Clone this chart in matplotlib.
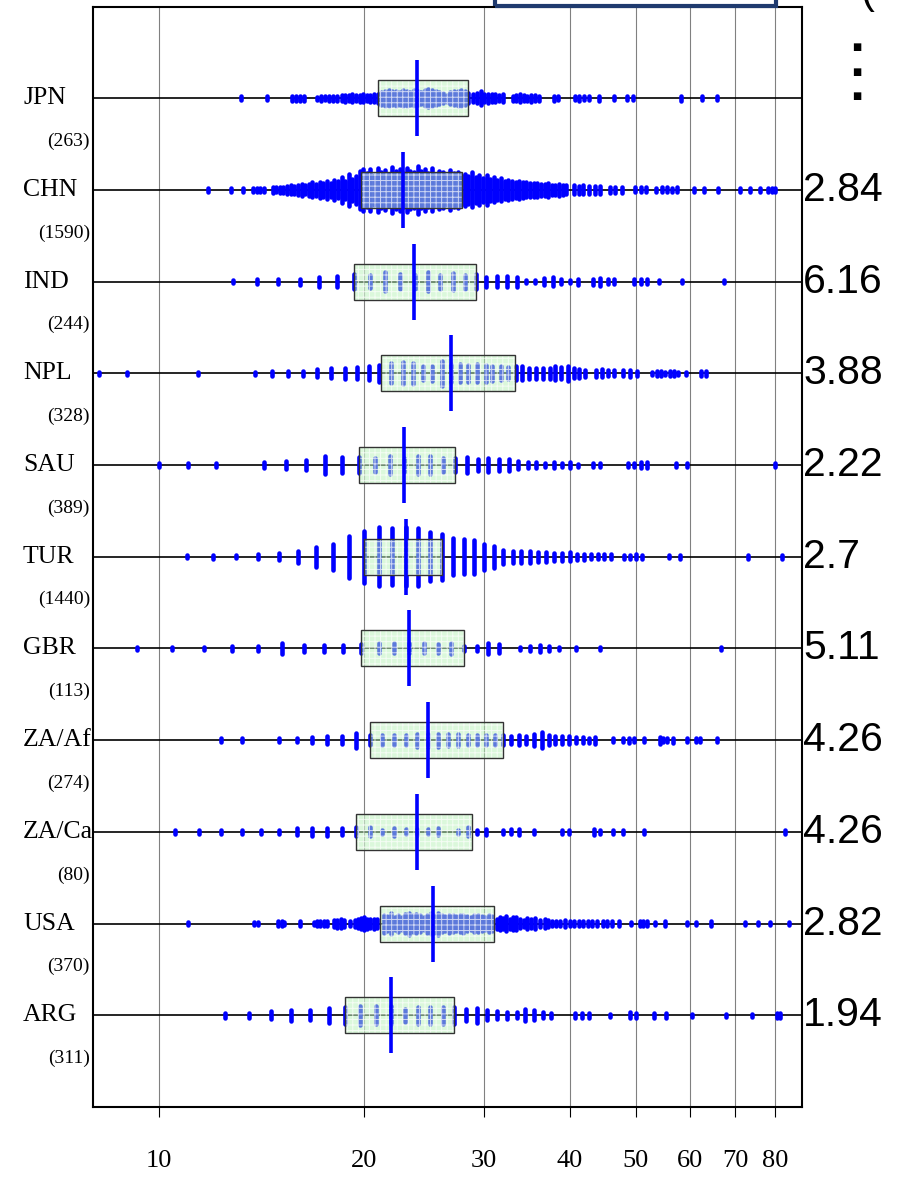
import matplotlib
matplotlib.use("Agg")
import matplotlib.pyplot as plt
from matplotlib.patches import Rectangle
import numpy as np

plt.rcParams["hatch.linewidth"] = 0.7

countries = ["JPN", "CHN", "IND", "NPL", "SAU", "TUR", "GBR", "ZA/Af", "ZA/Ca", "USA", "ARG"]
sample_sizes = [263, 1590, 244, 328, 389, 1440, 113, 274, 80, 370, 311]
ratios = ["", "2.84", "6.16", "3.88", "2.22", "2.7", "5.11", "4.26", "4.26", "2.82", "1.94"]

q1 = [20.94, 19.82, 19.34, 21.17, 19.63, 20.0, 19.82, 20.37, 19.45, 21.07, 18.76]
medians = [23.88, 22.78, 23.7, 26.83, 22.85, 23.03, 23.3, 24.77, 23.88, 25.27, 21.93]
q3 = [28.43, 27.87, 29.18, 33.3, 27.16, 25.98, 28.0, 31.94, 28.83, 30.97, 27.13]

# observed values and how many cases fall on each
jpn_vals = [13.19, 14.41, 15.66, 15.87, 16.09, 16.32, 17.06, 17.29, 17.53, 17.78, 18.02, 18.27,
            18.53, 18.75, 18.99, 19.22, 19.46, 19.70, 19.94, 20.18, 20.43, 20.69, 20.94,
            21.2, 21.46, 21.72, 21.99, 22.26, 22.54, 22.81, 23.09, 23.38, 23.67, 23.96, 24.25,
            24.55, 24.85, 25.16, 25.47, 25.78, 26.1, 26.42, 26.75, 27.08, 27.41, 27.75, 28.09, 28.44,
            28.92, 29.28, 29.64, 30.0, 30.37, 30.75, 31.12, 31.56, 31.99,
            33.04, 33.44, 33.86, 34.27, 34.7, 35.12, 35.56, 36.1,
            37.91, 38.44, 40.74, 41.37, 42.01, 42.66, 44.12, 46.47, 48.58, 49.56, 58.28, 62.54, 65.77]
jpn_cnt = [2, 2, 4, 5, 5, 4, 1, 4, 2, 4, 5, 5,
           7, 8, 7, 10, 7, 8, 10, 7, 8, 10, 12,
           20, 23, 26, 21, 23, 20, 24, 23, 20, 26, 21, 18,
           24, 29, 26, 21, 18, 14, 8, 17, 21, 23, 24, 21, 15,
           10, 14, 21, 11, 12, 10, 10, 7, 11,
           4, 7, 10, 7, 4, 8, 7, 4,
           5, 2, 2, 4, 2, 2, 4, 2, 2, 2, 5, 2, 2]

chn_vals = [11.8, 12.75, 13.29, 13.75, 13.92, 14.09, 14.26, 14.68, 14.86, 15.05, 15.23, 15.42,
            15.61, 15.8, 16.0, 16.19, 16.39, 16.59, 16.8, 17.01, 17.21, 17.43, 17.64, 17.86,
            18.08, 18.3, 18.53, 18.75, 18.99, 19.22, 19.46, 19.7, 19.94, 20.18, 20.43, 20.69,
            20.94, 21.2, 21.46, 21.72, 21.99, 22.26, 22.54, 22.81, 23.09, 23.38, 23.67, 23.96,
            24.25, 24.55, 24.85, 25.16, 25.47, 25.78, 26.1, 26.42, 26.75, 27.08, 27.41, 27.75,
            28.09, 28.44, 28.79, 29.14, 29.5, 29.86, 30.23, 30.6, 30.98, 31.36, 31.75, 32.14,
            32.54, 32.94, 33.34, 33.75, 34.17, 34.59, 35.02, 35.45, 35.88, 36.33, 36.77, 37.23,
            37.68, 38.15, 38.62, 39.09, 39.58, 40.62, 41.25, 41.88, 42.66, 43.65, 44.39, 45.91,
            46.62, 47.7, 49.94, 50.86, 51.73, 53.5, 54.74, 55.59, 56.44, 57.58, 60.93, 63.02,
            65.98, 71.0, 73.44, 75.95, 78.19, 79.16, 80.01]
chn_cnt = [2, 2, 2, 4, 4, 2, 4, 7, 5, 8, 7, 10,
           12, 11, 14, 17, 12, 18, 23, 17, 26, 21, 30, 20,
           33, 27, 44, 30, 55, 36, 47, 66, 73, 57, 72, 51,
           76, 61, 70, 55, 81, 66, 73, 58, 78, 67, 61, 84,
           64, 72, 58, 75, 55, 66, 61, 52, 69, 57, 63, 52,
           55, 47, 60, 44, 50, 39, 52, 36, 42, 32, 38, 29,
           33, 30, 26, 29, 24, 23, 21, 20, 21, 18, 17, 20,
           15, 14, 17, 14, 12, 12, 11, 12, 11, 10, 11, 7,
           8, 8, 5, 5, 5, 4, 5, 5, 4, 5, 4, 4,
           4, 4, 4, 4, 4, 4, 4]

ind_vals = [12.83, 13.92, 14.97, 16.09, 17.16, 18.22, 19.34, 20.43, 21.49, 22.61, 23.71, 24.77,
            25.86, 26.95, 28.09, 29.19, 30.18, 31.3, 32.38, 33.49, 34.58, 35.6, 36.71, 37.85,
            38.9, 40.06, 41.11, 43.24, 44.31, 45.48, 46.54, 49.7, 50.86, 51.96, 54.07, 58.53, 67.3]
ind_cnt = [2, 4, 4, 7, 14, 17, 23, 20, 30, 23, 21, 30,
           21, 26, 21, 23, 14, 17, 17, 14, 1, 1, 8, 12,
           4, 1, 7, 7, 10, 4, 5, 4, 5, 4, 2, 2, 2]

npl_vals = [8.18, 8.99, 11.42, 13.83, 14.66, 15.46, 16.27, 17.06, 17.86, 18.73,
            19.51, 20.3, 21.06, 21.89, 22.78, 23.56, 24.36, 25.16, 25.98, 26.83,
            27.66, 28.43, 29.27, 30.13, 30.83, 31.7, 32.48, 33.44, 34.11, 34.9,
            35.71, 36.54, 37.39, 38.14, 38.9, 39.75, 40.55, 41.36, 42.19, 43.77,
            44.65, 45.62, 46.54, 47.98, 49.09, 50.23, 52.84, 53.66, 54.4, 55.24,
            56.09, 56.95, 57.66, 59.26, 62.42, 63.39]
npl_cnt = [2, 2, 2, 1, 5, 4, 4, 10, 14, 15,
           18, 21, 26, 32, 36, 35, 21, 23, 41, 29,
           29, 26, 29, 26, 24, 21, 18, 21, 21, 17,
           17, 17, 17, 21, 18, 23, 14, 11, 8, 8,
           10, 7, 7, 7, 8, 5, 1, 4, 4, 2,
           4, 5, 2, 2, 4, 4]

sau_vals = [10.0, 11.05, 12.13, 14.28, 15.35, 16.44, 17.51, 18.55, 19.63, 20.72, 21.79, 22.85,
            23.95, 25.0, 26.1, 27.16, 28.26, 29.36, 30.41, 31.49, 32.58, 33.65, 34.74, 35.77,
            36.82, 37.91, 38.96, 40.06, 41.18, 43.3, 44.38, 48.71, 49.77, 50.93, 51.96, 57.38,
            59.43, 79.98]
sau_cnt = [4, 2, 4, 7, 10, 14, 29, 26, 26, 23, 30, 21,
           29, 29, 21, 21, 26, 17, 21, 18, 17, 10, 7, 7,
           4, 7, 4, 7, 1, 4, 4, 4, 4, 7, 5, 2,
           2, 2]

tur_vals = [11, 12, 13, 14, 15, 16, 17, 18, 19, 20, 21, 22, 23, 24, 25, 26, 27, 28, 29, 30,
            31, 32, 33, 34, 35, 36, 37, 38, 39, 40, 41, 42, 43, 44, 45, 46, 48, 49, 50, 51,
            56, 58, 73, 82]
tur_cnt = [1, 2, 1, 4, 8, 18, 33, 44, 73, 91, 104, 101, 105, 103, 87, 81, 64, 61, 58, 44,
           37, 22, 18, 17, 17, 14, 14, 11, 10, 12, 7, 7, 4, 5, 4, 4, 2, 2, 4, 2,
           1, 2, 2, 2]

gbr_vals = [9.29, 10.47, 11.64, 12.79, 13.98, 15.14, 16.32, 17.48, 18.64, 19.82, 21.0, 22.13,
            23.3, 24.47, 25.66, 26.83, 28.05, 29.23, 30.41, 31.55, 33.85, 35.06, 36.26, 37.33,
            38.55, 40.93, 44.38, 66.68]
gbr_cnt = [2, 2, 2, 4, 5, 17, 7, 8, 8, 12, 14, 14,
           14, 14, 11, 17, 5, 5, 17, 11, 2, 5, 7, 4,
           2, 2, 2, 2]

zaf_vals = [12.35, 13.23, 15.0, 15.92, 16.8, 17.67, 18.55, 19.45, 20.37, 21.26,
            22.13, 23.02, 23.92, 24.77, 25.7, 26.58, 27.49, 28.39, 29.32, 30.22,
            31.12, 31.99, 32.88, 33.7, 34.58, 35.44, 36.43, 37.28, 38.14, 39.03,
            39.93, 40.93, 41.82, 42.66, 43.6, 46.25, 47.98, 48.94, 49.7, 51.48,
            54.22, 54.89, 55.65, 56.77, 59.43, 61.28, 62.03, 65.77]
zaf_cnt = [4, 2, 2, 4, 7, 10, 11, 23, 15, 14,
           15, 14, 20, 20, 20, 18, 18, 15, 14, 14,
           14, 14, 11, 14, 11, 18, 24, 14, 11, 11,
           11, 7, 7, 5, 8, 4, 2, 5, 2, 4,
           8, 4, 4, 5, 2, 4, 4, 2]

zac_vals = [10.57, 11.46, 12.35, 13.23, 14.13, 15.0, 15.92, 16.8, 17.67, 18.55, 19.45, 20.37,
            21.26, 22.13, 23.02, 23.88, 24.77, 25.7, 27.49, 28.39, 29.32, 30.13, 31.99, 32.83,
            33.7, 35.49, 39.03, 39.93, 43.5, 44.38, 46.25, 47.98, 51.48, 82.7]
zac_cnt = [2, 2, 2, 2, 2, 4, 8, 11, 10, 8, 12, 12,
           2, 10, 5, 7, 5, 8, 2, 12, 2, 7, 2, 5,
           7, 2, 4, 4, 7, 2, 4, 2, 2, 2]

usa_vals = [11.03, 13.81, 13.96, 14.95, 15.14, 15.25, 16.09, 16.88, 17.06, 17.24, 17.45, 17.64,
            18.05, 18.27, 18.47, 18.67, 19.04, 19.4, 19.61, 19.79, 20.0, 20.22, 20.43, 20.65, 20.88,
            21.36, 21.62, 21.89, 22.16, 22.43, 22.71, 22.99, 23.27, 23.56, 23.85, 24.14, 24.44,
            24.74, 25.04, 25.35, 25.67, 25.98, 26.3, 26.62, 26.95, 27.28, 27.62, 27.96, 28.31,
            28.65, 29.01, 29.37, 29.73, 30.09, 30.46, 30.84,
            31.27, 31.6, 31.94, 32.29, 32.69, 33.04, 33.44, 33.86, 34.27, 34.7, 35.12, 35.66,
            36.21, 36.77, 37.23, 37.74, 38.21, 38.8, 39.39, 40.0, 40.62, 41.25, 41.88, 42.53,
            43.18, 43.85, 44.86, 45.42, 46.12, 47.33, 49.26, 50.71, 51.33, 51.96, 53.42, 55.25,
            59.37, 61.4, 64.38, 72.43, 75.6, 78.79, 83.89]
usa_cnt = [2, 2, 2, 4, 4, 2, 5, 2, 5, 4, 4, 4,
           7, 10, 11, 7, 4, 7, 11, 17, 21, 14, 11, 14, 12,
           29, 23, 33, 21, 27, 20, 30, 36, 26, 32, 27, 21,
           29, 33, 29, 36, 26, 23, 29, 27, 23, 26, 29, 24,
           21, 27, 26, 23, 21, 26, 24,
           14, 20, 17, 23, 14, 21, 18, 12, 7, 17, 12, 15,
           7, 11, 7, 5, 5, 5, 7, 4, 5, 5, 5, 4,
           5, 4, 4, 4, 4, 4, 2, 4, 4, 4, 2, 4,
           2, 2, 4, 2, 2, 2, 2]

arg_vals = [12.51, 13.54, 14.59, 15.61, 16.67, 17.75, 18.76, 19.75, 20.84, 21.92, 22.93, 23.95,
            25.0, 26.12, 27.13, 28.18, 29.23, 30.25, 31.32, 32.43, 33.46, 34.45, 35.48, 36.54,
            37.57, 40.7, 41.77, 42.79, 45.93, 49.05, 50.09, 53.22, 55.48, 60.5, 67.85, 74.1,
            80.53, 81.38]
arg_cnt = [4, 4, 11, 15, 14, 23, 26, 30, 29, 29, 20, 26,
           26, 27, 26, 18, 23, 14, 10, 8, 7, 18, 14, 7,
           4, 4, 5, 4, 2, 7, 4, 4, 4, 2, 2, 2,
           4, 4]

all_vals = [jpn_vals, chn_vals, ind_vals, npl_vals, sau_vals, tur_vals,
            gbr_vals, zaf_vals, zac_vals, usa_vals, arg_vals]
all_cnt = [jpn_cnt, chn_cnt, ind_cnt, npl_cnt, sau_cnt, tur_cnt,
           gbr_cnt, zaf_cnt, zac_cnt, usa_cnt, arg_cnt]

xticks = [10, 20, 30, 40, 50, 60, 70, 80]

W, H = 899, 1177
fig = plt.figure(figsize=(W / 100, H / 100), dpi=100)
ax_l, ax_r, ax_t, ax_b = 93, 802, 6.5, 1107
ax = fig.add_axes([ax_l / W, 1 - ax_b / H, (ax_r - ax_l) / W, (ax_b - ax_t) / H])

n_rows = len(countries)
ax.set_xscale("log")
ax.set_xlim(8.01, 87.66)
ax.set_ylim(0, n_rows + 1)
px = (n_rows + 1) / (ax_b - ax_t)  # data units per pixel, vertically

blue = "#0000ff"
ypos = np.arange(n_rows, 0, -1)
ytf = ax.get_yaxis_transform()

for i, y in enumerate(ypos):
    ax.axhline(y, color="black", lw=1.2, zorder=2)

    # each value is a stack of points: taller for more cases
    v = np.asarray(all_vals[i], dtype=float)
    c = np.asarray(all_cnt[i], dtype=float)
    half = (3.0 + 0.54 * (c - 1)) / 2 * px
    ax.vlines(v, y - half, y + half, color=blue, lw=3.3, capstyle="round", zorder=3)

    bh = 18 * px
    x0, w = q1[i], q3[i] - q1[i]
    ax.add_patch(Rectangle((x0, y - bh), w, 2 * bh, facecolor=(0.72, 0.95, 0.72),
                           alpha=0.5, lw=0, zorder=4))
    ax.add_patch(Rectangle((x0, y - bh), w, 2 * bh, facecolor="none",
                           edgecolor=(1, 1, 1, 0.7), hatch="+++", lw=0, zorder=4.5))
    ax.add_patch(Rectangle((x0, y - bh), w, 2 * bh, facecolor="none",
                           edgecolor="#333333", lw=1.0, zorder=5))
    ax.vlines(medians[i], y - 38 * px, y + 38 * px, color=blue, lw=2.6, zorder=6)

    # row labels on the left, ratio on the right
    ax.text((23 - ax_l) / (ax_r - ax_l), y, countries[i], transform=ytf,
            ha="left", va="center", fontsize=18.5, family="Liberation Serif")
    ax.text((90 - ax_l) / (ax_r - ax_l), y - 43 * px, f"({sample_sizes[i]})",
            transform=ytf, ha="right", va="center", fontsize=14, family="Liberation Serif")
    if ratios[i]:
        ax.text(1.0015, y, ratios[i], transform=ytf, ha="left", va="center",
                fontsize=29.5, family="Liberation Sans")

ax.set_xticks(xticks)
ax.set_xticklabels([str(t) for t in xticks], family="Liberation Serif")
ax.xaxis.set_minor_locator(plt.NullLocator())
ax.set_yticks([])
ax.tick_params(axis="x", direction="out", length=7, width=0.8, pad=24, labelsize=19)
ax.grid(axis="x", color="#808080", lw=0.8)
ax.set_axisbelow(True)
for s in ax.spines.values():
    s.set_linewidth(1.5)
    s.set_color("black")

# framed box and marks running off the top edge
fig.add_artist(Rectangle((495 / W, 1 - 6 / H), 281 / W, 0.05, transform=fig.transFigure,
                         facecolor="none", edgecolor="#1f3a6e", lw=3))
fig.text(860 / W, 1 - 3 / H, "(", fontsize=30, family="Liberation Sans", va="baseline")
for yy in (47, 72, 96):
    fig.text(857 / W, 1 - yy / H, "\u25a0", fontsize=7, ha="center", va="center",
             family="DejaVu Sans")

fig.savefig("out.png", dpi=100)
